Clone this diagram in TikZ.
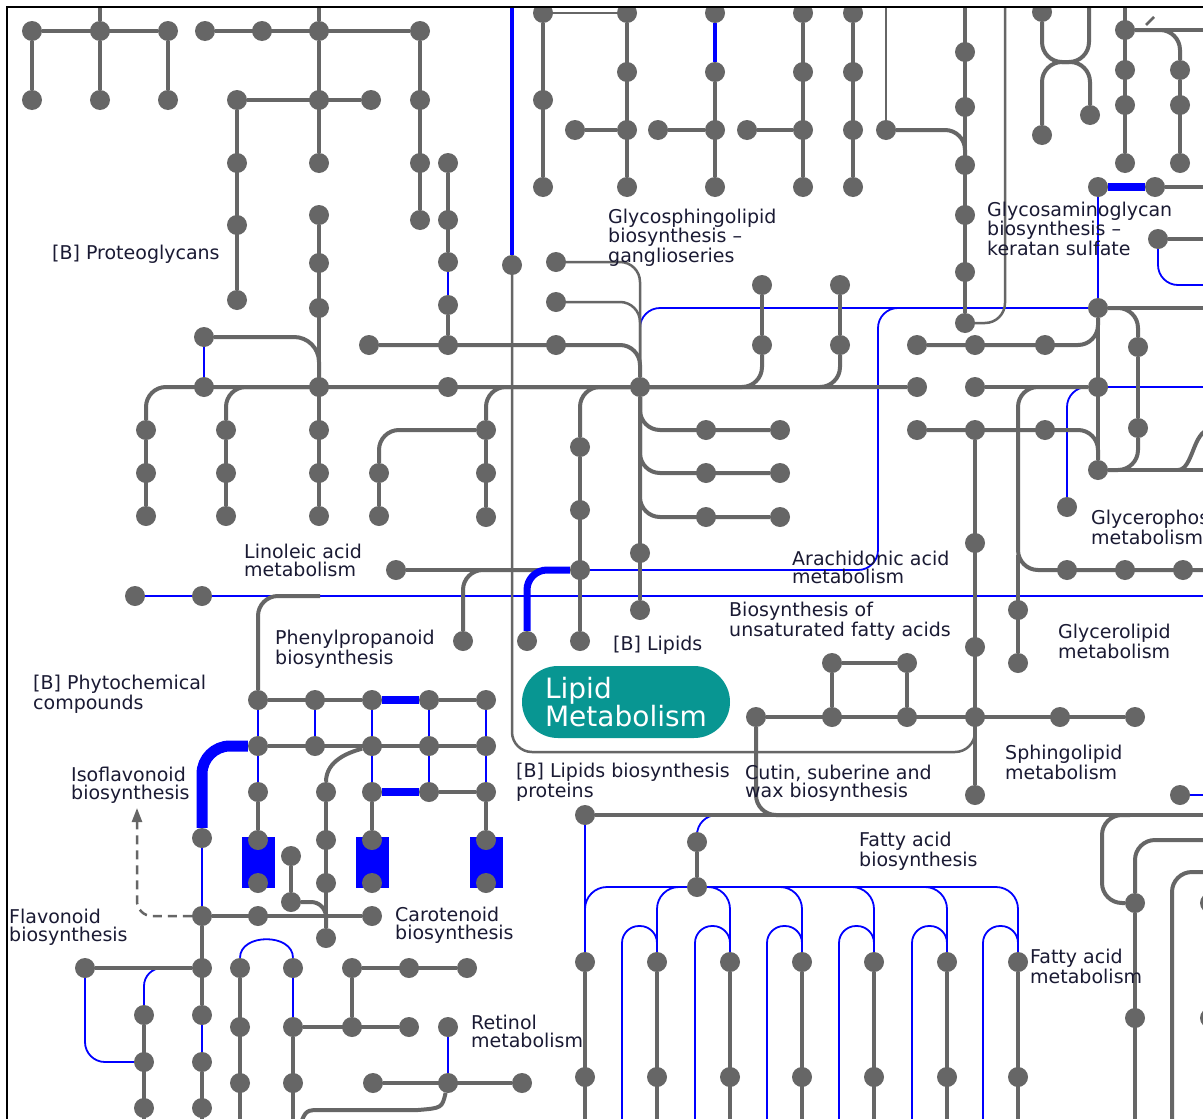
\documentclass[tikz,border=0pt]{standalone}
\usepackage{fontspec}
\setmainfont{DejaVu Sans}
\usetikzlibrary{arrows.meta}
\pgfdeclarelayer{bg}
\pgfsetlayers{bg,main}
\definecolor{g}{HTML}{666666}
\definecolor{bb}{HTML}{0000FF}
\definecolor{tl}{HTML}{089692}
\definecolor{tx}{HTML}{1A1A33}
\begin{document}
\begin{tikzpicture}[x=1pt,y=-1pt,
 dot/.style={circle,fill=g,inner sep=0pt,minimum size=20pt},
 gl/.style={draw=g,line width=4pt},
 gt/.style={draw=g,line width=2.5pt},
 bl/.style={draw=bb,line width=1.8pt},
 bm/.style={draw=bb,line width=3.5pt},
 bk/.style={draw=bb,line width=8pt},
 rc/.style={rounded corners=#1}, rc/.default=20pt,
 lab/.style={anchor=base west,align=left,text=tx,font=\fontsize{19}{17.8}\selectfont,inner sep=0pt},
 bbox/.style={fill=bb,inner sep=0pt,minimum width=33pt,minimum height=51pt}]
\useasboundingbox (0,0) rectangle (1203,1119);
\begin{pgfonlayer}{bg}
\fill[white] (0,0) rectangle (1203,1119);
\end{pgfonlayer}

% blue boxes
\node[bbox] (r1) at (258.5,862.5) {};
\node[bbox] (r2) at (372,862.5) {};
\node[bbox] (r3) at (486.5,862.5) {};

% Lipid Metabolism
\node[fill=tl,rounded corners=36pt,minimum width=208pt,minimum height=72pt,inner sep=0pt,
  text=white,align=left,font=\fontsize{28}{28}\selectfont] (lm) at (626,702) {Lipid\\Metabolism};

% dots
\foreach \a/\b in {32/31,100/31,168/31,32/100,100/100,168/100,
205/31,262/31,319/31,420/31,237/100,319/100,371/100,420/100,
237/163,319/163,420/163,448/163,237/225,420/220,448/220,237/300,448/262,
319/215,319/263,319/308,319/387,319/430,319/473,319/516,
448/305,448/345,448/387,
204/337,204/387,146/430,146/473,146/516,226/430,226/473,226/516,
369/345,379/473,379/516,486/430,486/473,486/517,
512/265,556/262,556/302,556/345,
640/387,580/447,580/510,580/570,
706/430,780/430,706/473,780/473,706/517,780/517,640/553,640/610,
762/285,762/345,840/285,840/345,
543/13,627/13,715/13,803/13,853/13,543/100,543/187,
627/72,627/130,627/187,575/130,715/72,715/130,715/187,658/130,
803/72,803/130,803/187,747/130,853/72,853/130,853/187,886/130,
965/52,965/107,965/165,965/215,965/272,965/323,
1042/12,1042/135,1090/115,
1125/30,1125/70,1125/105,1125/163,1180/70,1180/105,1180/163,
1098/187,1155/187,1158/239,
1098/308,917/345,975/345,1045/345,1138/347,917/387,975/387,1098/387,
917/430,975/430,1045/430,1138/428,1098/470,1067/507,975/543,
1067/570,1125/570,1183/570,1018/610,1018/663,975/647,975/717,975/795,
832/663,907/663,756/717,832/717,907/717,1060/717,1135/717,1180/795,
396/570,135/596,202/596,463/641,527/641,580/641,
258/700,315/700,372/700,429/700,486/700,
258/746,315/746,372/746,429/746,486/746,
258/792,326/792,372/792,429/792,486/792,
202/838,258/840,326/840,372/840,486/840,
258/883,326/883,372/883,486/883,291/856,291/902,
202/916,258/916,372/916,326/938,
85/968,202/968,240/968,293/968,352/968,409/968,467/968,
144/1015,202/1015,240/1027,293/1027,352/1027,409/1027,448/1027,
144/1062,202/1062,240/1083,293/1083,373/1083,448/1083,522/1083,
144/1108,202/1108,
585/815,697/842,697/887,
585/962,657/962,730/962,802/962,874/962,947/962,1018/962,
585/1077,657/1077,730/1077,802/1077,874/1077,947/1077,1018/1077,
1135/903,1135/1018,1210/903,1210/1018}
  {\node[dot] (d\a-\b) at (\a,\b) {};}

% free ends
\coordinate (eR596) at (1210,596);
\coordinate (eR387) at (1210,387);
\coordinate (eR285) at (1210,285);
\coordinate (eR795) at (1210,795);
\coordinate (eR308) at (1210,308);
\coordinate (eR470) at (1210,470);
\coordinate (eR570) at (1210,570);
\coordinate (eR815) at (1210,815);
\coordinate (eR30) at (1210,30);
\coordinate (eR187) at (1210,187);
\coordinate (eR239) at (1210,239);
\coordinate (eR840) at (1210,840);
\coordinate (eR872) at (1210,872);
\coordinate (arr) at (137,808);

% labels (anchor = baseline of last line)
\node[lab] (t1) at (52,259) {[B] Proteoglycans};
\node[lab] (t2) at (608,262) {Glycosphingolipid\\biosynthesis –\\ganglioseries};
\node[lab] (t3) at (987,255) {Glycosaminoglycan\\biosynthesis –\\keratan sulfate};
\node[lab] (t4) at (244,576) {Linoleic acid\\metabolism};
\node[lab] (t5) at (792,583) {Arachidonic acid\\metabolism};
\node[lab] (t6) at (1091,544) {Glycerophospholipid\\metabolism};
\node[lab] (t7) at (729,636) {Biosynthesis of\\unsaturated fatty acids};
\node[lab] (t8) at (1058,658) {Glycerolipid\\metabolism};
\node[lab] (t9) at (275,664) {Phenylpropanoid\\biosynthesis};
\node[lab] (t10) at (613,650) {[B] Lipids};
\node[lab] (t11) at (33,709) {[B] Phytochemical\\compounds};
\node[lab] (t12) at (71,799) {Isoflavonoid\\biosynthesis};
\node[lab] (t13) at (516,797) {[B] Lipids biosynthesis\\proteins};
\node[lab] (t14) at (745,797) {Cutin, suberine and\\wax biosynthesis};
\node[lab] (t15) at (1005,779) {Sphingolipid\\metabolism};
\node[lab] (t16) at (859,866) {Fatty acid\\biosynthesis};
\node[lab] (t17) at (9,941) {Flavonoid\\biosynthesis};
\node[lab] (t18) at (395,939) {Carotenoid\\biosynthesis};
\node[lab] (t19) at (1030,983) {Fatty acid\\metabolism};
\node[lab] (t20) at (471,1047) {Retinol\\metabolism};

\begin{pgfonlayer}{bg}
% ---- blue thin
\draw[bl] (d448-262) -- (d448-305);
\draw[bl] (d204-337) -- (d204-387);
\draw[bl,rc] (d640-387) |- (d1098-308);
\draw[bl,rc] (d580-570) -| (878,308) -- (d1098-308);
\draw[bl] (d135-596) -- (eR596);
\draw[bl] (d1098-187) -- (d1098-308);
\draw[bl] (d1098-387) -- (eR387);
\draw[bl,rc] (d1098-387) -| (d1067-507);
\draw[bl,rc] (d1158-239) |- (eR285);
\draw[bl] (d1180-795) -- (eR795);
\draw[bl] (d258-700) -- (d258-792);
\draw[bl] (d315-700) -- (d315-746);
\draw[bl] (d372-700) -- (d372-792);
\draw[bl] (d429-700) -- (d429-792);
\draw[bl] (d486-700) -- (d486-792);
\draw[bl] (d202-838) -- (d202-916);
\draw[bl] (d202-1015) -- (d202-1062);
\draw[bl,rc] (d85-968) |- (d144-1062);
\draw[bl,rc=18pt] (162,968) -| (d144-1015);
\draw[bl] (d240-968) .. controls (240,933) and (293,933) .. (d293-968);
\draw[bl] (d293-968) -- (d293-1027);
\draw[bl] (d448-1027) -- (d448-1083);
\draw[bl] (d585-815) -- (d585-962);
\draw[bl,rc=22pt] (d585-962) |- (1018,887) -- (d1018-962);
\draw[bl,rc=22pt] (d657-962) |- (d697-887);
\foreach \c in {730,802,874,947} {\draw[bl,rc=22pt] (d697-887) -| (d\c-962);}
\foreach \c in {657,730,802,874,947,1018} {\draw[bl,rounded corners=17pt] (\c-35,1125) -- (\c-35,926) -- (\c,926) -- (\c,962);}
\draw[bl,rc] (d697-842) |- (780,815);

% ---- gray thin
\draw[gt] (d543-13) -- (d627-13);
\draw[gt,rc] (d512-265) |- (975,752) -- (d975-717);
\draw[gt] (886,0) -- (d886-130);
\draw[gt,rc] (1005,0) |- (d965-323);
\draw[gt,rc] (d556-262) -| (d640-387);
\draw[gt,rc] (d556-302) -| (d640-387);
\draw[gt] (1146,25) -- (1154,17);

% ---- gray
\draw[gl] (d32-31) -- (d168-31);
\draw[gl] (d32-31) -- (d32-100);
\draw[gl] (d100-31) -- (d100-100);
\draw[gl] (d168-31) -- (d168-100);
\draw[gl] (d100-31) -- (100,0);
\draw[gl] (d205-31) -- (d420-31);
\draw[gl] (d319-31) -- (319,0);
\draw[gl] (d319-31) -- (d319-163);
\draw[gl] (d420-31) -- (d420-220);
\draw[gl] (d237-100) -- (d371-100);
\draw[gl] (d237-100) -- (d237-300);
\draw[gl] (d448-163) -- (d448-262);
\draw[gl] (d448-305) -- (d448-345);
\draw[gl] (d319-215) -- (d319-516);
\draw[gl,rc=25pt] (d204-337) -| (d319-387);
\draw[gl,rc] (d146-430) |- (d917-387);
\draw[gl,rc] (d226-430) |- (d319-387);
\draw[gl,rc] (d379-473) |- (d486-430);
\draw[gl,rc] (d486-430) |- (d640-387);
\draw[gl] (d146-430) -- (d146-516);
\draw[gl] (d226-430) -- (d226-516);
\draw[gl] (d379-473) -- (d379-516);
\draw[gl] (d486-430) -- (d486-517);
\draw[gl,rc] (d369-345) -| (d640-387);
\draw[gl] (d640-387) -- (d640-610);
\draw[gl,rc] (d640-387) |- (d780-430);
\draw[gl,rc] (d640-387) |- (d780-473);
\draw[gl,rc] (d640-387) |- (d780-517);
\draw[gl,rc] (d580-447) |- (d640-387);
\draw[gl] (d580-447) -- (d580-641);
\draw[gl] (d762-285) -- (d762-345);
\draw[gl,rc] (d762-345) |- (d640-387);
\draw[gl] (d840-285) -- (d840-345);
\draw[gl,rc] (d840-345) |- (d640-387);
\draw[gl] (d396-570) -- (d580-570);
\draw[gl,rc] (d463-641) |- (d580-570);
\draw[gl,rc] (d258-700) |- (320,596);
\draw[gl] (d258-700) -- (d372-700);
\draw[gl] (d429-700) -- (d486-700);
\draw[gl] (d258-746) -- (d486-746);
\draw[gl] (d429-792) -- (d486-792);
\draw[gl] (d258-792) -- (d258-840);
\draw[gl] (d326-792) -- (d326-938);
\draw[gl] (d372-792) -- (d372-840);
\draw[gl] (d486-792) -- (d486-840);
\draw[gl] (d326-792) .. controls (326,760) and (350,752) .. (d372-746);
\draw[gl] (d291-856) -- (d291-902);
\draw[gl,rc=15pt] (d291-902) -| (d326-938);
\draw[gl] (d202-916) -- (d372-916);
\draw[gl] (d202-916) -- (d202-1015);
\draw[gl] (d202-1062) -- (202,1125);
\draw[gl] (d85-968) -- (d202-968);
\draw[gl] (d144-1015) -- (144,1125);
\draw[gl] (d240-968) -- (240,1125);
\draw[gl] (d293-1027) -- (293,1125);
\draw[gl] (d293-1027) -- (d409-1027);
\draw[gl] (d352-968) -- (d352-1027);
\draw[gl] (d352-968) -- (d467-968);
\draw[gl] (d373-1083) -- (d522-1083);
\draw[gl] (d448-1083) .. controls (442,1108) .. (418,1110) -- (322,1110) .. controls (306,1110) .. (300,1125);
% top middle
\draw[gl] (d543-13) -- (d543-187);
\draw[gl] (d627-13) -- (d627-187);
\draw[gl] (d575-130) -- (d627-130);
\draw[gl] (d715-72) -- (d715-187);
\draw[gl] (d658-130) -- (d715-130);
\draw[gl] (d803-13) -- (d803-187);
\draw[gl] (d747-130) -- (d803-130);
\draw[gl] (d853-13) -- (d853-187);
\draw[gl,rc] (d886-130) -| (d965-165);
\draw[gl] (965,0) -- (d965-323);
\draw[gl,rc=20pt] (d1042-12) -- (1042,62) -- (1089,62) -- (1089,0);
\draw[gl,rc=20pt] (d1042-135) -- (1042,62) -- (1090,62) -- (d1090-115);
\draw[gl] (1125,0) -- (d1125-163);
\draw[gl] (d1125-30) -- (eR30);
\draw[gl,rc] (d1125-30) -| (d1180-70);
\draw[gl] (d1180-70) -- (d1180-163);
\draw[gl] (d1155-187) -- (eR187);
\draw[gl] (d1158-239) -- (eR239);
% right middle
\draw[gl] (d1098-308) -- (d1098-470);
\draw[gl] (d1098-308) -- (eR308);
\draw[gl,rc] (d1098-308) -| (d1138-347);
\draw[gl] (d1138-347) -- (d1138-428);
\draw[gl,rc] (d1138-428) |- (d1098-470);
\draw[gl] (d1098-470) -- (eR470);
\draw[gl] (1178,470) .. controls (1193,470) and (1193,430) .. (1210,430);
\draw[gl,rc] (d917-345) -| (d1098-308);
\draw[gl,rc] (d917-430) -| (d1098-470);
\draw[gl] (d975-387) -- (d1098-387);
\draw[gl] (d975-430) -- (d975-795);
\draw[gl,rc] (d1098-387) -| (1018,570) -- (eR570);
\draw[gl] (1018,555) -- (d1018-663);
\draw[gl] (d832-663) -- (d907-663);
\draw[gl] (d832-663) -- (d832-717);
\draw[gl] (d907-663) -- (d907-717);
\draw[gl] (d756-717) -- (d1135-717);
\draw[gl,rc] (d756-717) |- (800,815);
\draw[gl] (d585-815) -- (eR815);
\draw[gl] (d697-842) -- (d697-887);
\foreach \c in {585,657,730,802,874,947,1018} {\draw[gl] (d\c-962) -- (\c,1125);}
\draw[gl,rc] (1130,815) -| (1102,903) -- (d1135-903);
\draw[gl] (d1135-903) -- (1135,1125);
\draw[gl,rc] (d1135-903) |- (eR840);
\draw[gl,rc] (1172,1125) |- (eR872);

% ---- blue medium / thick
\draw[bm] (512,0) -- (d512-265);
\draw[bm] (d715-13) -- (d715-72);
\draw[bk] (d1098-187) -- (d1155-187);
\draw[bk] (d372-700) -- (d429-700);
\draw[bk] (d372-792) -- (d429-792);
\draw[draw=bb,line width=11pt,rc=28pt] (d202-838) |- (d258-746);
\draw[draw=bb,line width=7pt,rc] (d527-641) |- (d580-570);
% dashed arrow
\draw[draw=g,line width=2.5pt,dash pattern=on 9pt off 6pt,rc=15pt,-{Triangle[length=14pt,width=10pt]}] (d202-916) -| (arr);
\end{pgfonlayer}

% frame
\fill[white] (0,0) rectangle (1203,6);
\fill[white] (0,0) rectangle (6,1119);
\draw[black,line width=2pt] (7,1119) -- (7,7) -- (1203,7);
\end{tikzpicture}
\end{document}
